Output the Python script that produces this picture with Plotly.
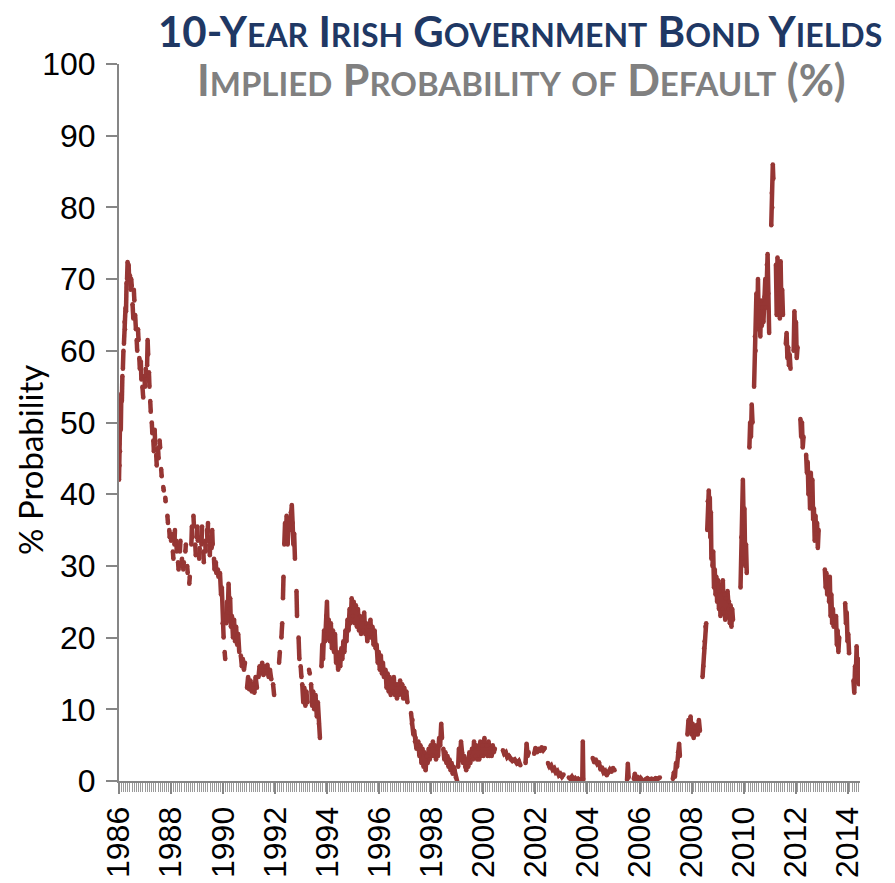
import plotly.graph_objects as go

# ---------------- DATA (decimal year, implied default probability %) ----------------
# None marks a gap in the published series
era_1986_1989 = [
    (1986.00, 42), (1986.01, 47), (1986.02, 44), (1986.03, 50), (1986.04, 46), (1986.05, 52), (1986.07, 49), (1986.09, 54), None,
    (1986.11, 53), (1986.13, 56.5), None,
    (1986.15, 57.5), (1986.17, 60), None,
    (1986.19, 61), (1986.21, 64), (1986.23, 63), (1986.25, 66), None,
    (1986.27, 65.5), (1986.29, 69.5), None,
    (1986.31, 70), (1986.33, 72.4), (1986.35, 71), (1986.37, 72), (1986.39, 70), None,
    (1986.42, 70.5), (1986.45, 68.5), (1986.47, 70), (1986.49, 69), None,
    (1986.52, 66.5), (1986.55, 64.5), None,
    (1986.57, 68.5), (1986.59, 67), None,
    (1986.62, 65), (1986.65, 63), None,
    (1986.68, 61.5), (1986.70, 60), None,
    (1986.73, 63), (1986.75, 61.5), None,
    (1986.78, 59), (1986.80, 57.5), None,
    (1986.84, 58.5), (1986.86, 56), None,
    (1986.90, 55), (1986.93, 53.5), None,
    (1986.97, 56.5), (1987.00, 55), None,
    (1987.03, 57.5), (1987.05, 56), None,
    (1987.08, 58), (1987.10, 61.5), (1987.12, 59.5), None,
    (1987.15, 57), (1987.17, 55), None,
    (1987.20, 53), (1987.22, 51.5), None,
    (1987.26, 50), (1987.28, 48.5), None,
    (1987.32, 47.5), (1987.34, 46), None,
    (1987.37, 49), (1987.39, 47), None,
    (1987.43, 45.5), (1987.45, 44), None,
    (1987.50, 46.5), (1987.52, 45), None,
    (1987.56, 47.5), (1987.58, 46.5), None,
    (1987.62, 43.5), (1987.64, 42.5), None,
    (1987.70, 41), (1987.72, 40.5), None,
    (1987.78, 39.5), (1987.79, 39), None,
    (1987.86, 37), (1987.88, 36), None,
    (1987.93, 35), (1987.95, 34), None,
    (1988.00, 33.5), (1988.02, 34.5), None,
    (1988.07, 32), (1988.09, 31), None,
    (1988.13, 33), (1988.15, 35), None,
    (1988.20, 33.5), (1988.22, 32), None,
    (1988.27, 30.5), (1988.29, 29.5), None,
    (1988.34, 32), (1988.36, 33.5), None,
    (1988.40, 30), (1988.42, 31), None,
    (1988.47, 29.5), (1988.49, 30.5), None,
    (1988.55, 32), (1988.57, 33), None,
    (1988.62, 30), (1988.64, 29), None,
    (1988.70, 27.5), (1988.72, 28.5), None,
    (1988.78, 33), (1988.80, 35.5), (1988.82, 34), None,
    (1988.86, 37), (1988.88, 35.5), None,
    (1988.93, 33), (1988.95, 31.5), None,
    (1988.99, 34), (1989.01, 35.5), (1989.03, 33.5), None,
    (1989.08, 31), (1989.10, 32.5), None,
    (1989.15, 34), (1989.17, 33), (1989.19, 35.5), None,
    (1989.24, 32), (1989.26, 30.5), None,
    (1989.31, 33.5), (1989.33, 32), None,
    (1989.38, 35), (1989.40, 33.5), (1989.42, 36), None,
    (1989.47, 33), (1989.49, 31.5), (1989.51, 34), None,
    (1989.56, 32.5), (1989.58, 35), (1989.60, 33), None,
    (1989.65, 31), (1989.67, 29.5), None,
    (1989.72, 30.5), (1989.74, 29), None,
    (1989.80, 29.5), (1989.82, 28.5), None,
]

era_1990_1997 = [
    (1989.88, 29), (1989.92, 26), (1989.95, 27), (1989.98, 22), (1990.02, 20), None,
    (1990.06, 18), (1990.08, 17), None,
    (1990.12, 22), (1990.15, 25), (1990.18, 23.5), (1990.21, 27.5), (1990.24, 24), (1990.27, 25.5), (1990.30, 21.5), None,
    (1990.34, 23), (1990.38, 20), (1990.42, 22.5), (1990.46, 19.5), (1990.50, 21.5), (1990.54, 19), (1990.58, 20.5), (1990.62, 18), None,
    (1990.68, 17.5), (1990.72, 16), (1990.76, 17), (1990.80, 15.5), (1990.84, 16.5), None,
    (1990.92, 13), (1990.96, 14.5), (1991.00, 12.8), (1991.05, 14), (1991.10, 12.5), (1991.15, 13.5), (1991.20, 12.3), (1991.25, 14.5), (1991.30, 13), None,
    (1991.36, 14.5), (1991.40, 16), (1991.45, 15), (1991.50, 16.5), (1991.55, 14.8), (1991.60, 16), (1991.65, 15), (1991.70, 16.2),
    (1991.75, 14.5), (1991.80, 15.5), (1991.85, 14.2), None,
    (1991.92, 13.5), (1991.96, 12), None,
    (1992.15, 16.5), (1992.18, 18), None,
    (1992.24, 20), (1992.27, 22), None,
    (1992.30, 25.5), (1992.32, 28.5), None,
    (1992.35, 33), (1992.38, 36), (1992.41, 34), (1992.44, 37), (1992.48, 33), (1992.52, 36.5), (1992.56, 35), (1992.60, 37.5),
    (1992.64, 38.5), (1992.67, 36), (1992.70, 33), (1992.73, 34.5), (1992.76, 31), None,
    (1992.82, 26.5), (1992.84, 23), None,
    (1992.90, 20), (1992.93, 17), None,
    (1992.98, 16), (1993.01, 14.5), None,
    (1993.04, 13.5), (1993.08, 11), (1993.12, 13), (1993.16, 10.5), (1993.20, 12.5), (1993.24, 11), None,
    (1993.30, 15.5), (1993.33, 15), None,
    (1993.38, 13.5), (1993.42, 10.5), (1993.46, 12.5), (1993.50, 10), (1993.55, 12), (1993.60, 9), (1993.64, 11), (1993.68, 8), (1993.72, 6), None,
    (1993.78, 16), (1993.81, 19), (1993.84, 17), (1993.88, 21), (1993.92, 19.5), (1993.96, 23), (1993.99, 25), (1994.02, 20.5),
    (1994.06, 22.5), (1994.10, 19.5), (1994.14, 22), (1994.18, 18.5), (1994.22, 21), (1994.26, 18), (1994.30, 20.5), (1994.34, 16.5),
    (1994.38, 18), (1994.42, 15.5), (1994.46, 17.5), (1994.50, 16), (1994.54, 18.5), (1994.58, 17), (1994.62, 19.5), (1994.66, 18),
    (1994.70, 21), (1994.74, 19.5), (1994.78, 22.5), (1994.82, 21), (1994.86, 24), (1994.90, 22), (1994.94, 25.5), (1994.98, 23),
    (1995.02, 25), (1995.06, 22), (1995.10, 24.5), (1995.14, 21.5), (1995.18, 24), (1995.22, 21), (1995.26, 23), (1995.30, 20.5),
    (1995.34, 22.5), (1995.38, 21), (1995.42, 23.5), (1995.46, 20.5), (1995.50, 22), (1995.54, 19.5), (1995.58, 21.5), (1995.62, 20),
    (1995.66, 22.5), (1995.70, 20), (1995.74, 21.5), (1995.78, 19), None,
    (1995.82, 21), (1995.86, 18.5), (1995.90, 19), (1995.94, 16.5), (1995.98, 18), (1996.02, 15.5), (1996.06, 17.5), (1996.10, 15),
    (1996.14, 16.5), (1996.18, 14.5), None,
    (1996.24, 15.5), (1996.28, 13), (1996.32, 15), (1996.36, 12.5), (1996.40, 14.5), (1996.44, 12), (1996.48, 14), (1996.52, 12.5),
    (1996.56, 14.5), (1996.60, 12), (1996.64, 13.5), (1996.68, 11.5), (1996.72, 13.5), (1996.76, 12), (1996.80, 14), (1996.84, 12.5),
    (1996.88, 13.5), (1996.92, 11.5), (1996.96, 13), (1997.00, 11.5), (1997.04, 12.5), (1997.08, 11), None,
    (1997.22, 9.5), (1997.25, 8), (1997.28, 8.5), (1997.31, 6.5), (1997.34, 7), (1997.37, 5.5), (1997.40, 6), (1997.43, 4.5), (1997.46, 5), None,
]

era_1998_2007 = [
    (1997.50, 5.5), (1997.54, 3.5), (1997.58, 5), (1997.62, 2.5), (1997.66, 4.5), (1997.70, 2), (1997.74, 4), (1997.78, 1.5),
    (1997.82, 3.5), (1997.86, 2.5), (1997.90, 4.5), (1997.94, 3), (1997.98, 5), (1998.02, 3.5), (1998.06, 5.5), (1998.10, 3.5),
    (1998.14, 5), (1998.18, 3), (1998.22, 4.5), (1998.26, 3.5), (1998.30, 6), (1998.34, 5), (1998.38, 8), (1998.41, 6), None,
    (1998.46, 4.5), (1998.50, 3), (1998.54, 4), (1998.58, 2.5), (1998.62, 3.5), (1998.66, 2), (1998.70, 3), (1998.74, 1.5),
    (1998.78, 2.5), (1998.82, 1), (1998.86, 2), (1998.90, 1.5), (1998.94, 0.5), (1998.99, 0), None,
    (1999.03, 2), (1999.06, 4.5), (1999.10, 3), (1999.14, 5.5), (1999.18, 4), (1999.22, 2.5), (1999.26, 3.5), (1999.30, 2),
    (1999.34, 1.5), (1999.38, 3), (1999.42, 2), (1999.46, 4), (1999.50, 2.5), None,
    (1999.56, 4.5), (1999.60, 3), (1999.64, 5.5), (1999.68, 3.5), (1999.72, 5), (1999.76, 3), (1999.80, 4.5), (1999.84, 3),
    (1999.88, 5.5), (1999.92, 3.5), (1999.96, 5), (2000.00, 3.5), (2000.04, 6), (2000.08, 4), (2000.12, 5), (2000.16, 3.5),
    (2000.20, 5.5), (2000.24, 3.5), (2000.28, 4.5), (2000.32, 3.5), (2000.36, 5), (2000.40, 4), (2000.44, 4.5), None,
    (2000.75, 4.3), (2000.80, 3.8), (2000.86, 4), (2000.92, 3.3), (2000.98, 3.5), (2001.05, 3), (2001.12, 2.8), (2001.20, 3),
    (2001.28, 2.5), (2001.36, 2.8), (2001.42, 2.2), None,
    (2001.62, 2.5), (2001.66, 5.2), (2001.70, 3.5), (2001.74, 4), None,
    (2001.95, 3.8), (2002.00, 4.6), (2002.06, 4), (2002.12, 4.5), (2002.18, 4.2), (2002.24, 4.7), (2002.30, 4.3), (2002.36, 4.6), None,
    (2002.48, 2.5), (2002.54, 2), (2002.60, 2.2), (2002.66, 1.6), (2002.72, 1.8), (2002.78, 1.2), (2002.84, 1.4), (2002.90, 0.8),
    (2002.96, 1), (2003.02, 0.6), (2003.08, 0.9), None,
    (2003.28, 0.5), (2003.34, 0.3), (2003.40, 0.6), (2003.46, 0.2), (2003.52, 0.4), (2003.58, 0.1), (2003.64, 0.3), (2003.72, 0),
    (2003.80, 0.2), (2003.82, 5.5), (2003.84, 0.2), None,
    (2004.20, 3.2), (2004.26, 2.6), (2004.32, 3), (2004.38, 2.4), (2004.44, 2.6), (2004.50, 1.6), (2004.56, 1.9), (2004.62, 1.2),
    (2004.68, 1.4), (2004.74, 0.8), (2004.80, 1.2), (2004.86, 1.6), (2004.92, 1.3), (2004.98, 1.8), (2005.04, 1.5), None,
    (2005.52, 0.2), (2005.55, 2.4), (2005.58, 0.5), None,
    (2005.78, 0.3), (2005.82, 1), (2005.86, 0.2), (2005.92, 0.6), (2005.98, 0.1), (2006.04, 0.4), (2006.10, 0.1), None,
    (2006.22, 0.2), (2006.30, 0.4), (2006.38, 0.2), (2006.46, 0.3), (2006.54, 0.2), (2006.62, 0.4), (2006.70, 0.3), (2006.78, 0.5), None,
    (2007.28, 0.3), (2007.32, 1.2), (2007.36, 0.6), (2007.40, 2.5), (2007.44, 2), (2007.48, 4), (2007.52, 5.2), (2007.55, 3.5), None,
]

era_2008_2014 = [
    (2007.84, 6.5), (2007.88, 8.5), (2007.92, 7), (2007.96, 9), (2008.00, 6.5), (2008.04, 8), (2008.08, 6), (2008.12, 7.5),
    (2008.16, 6.5), (2008.20, 7.8), (2008.24, 6.5), (2008.28, 8.5), (2008.32, 7), None,
    (2008.42, 14.5), (2008.45, 16), (2008.48, 18.5), (2008.50, 19.5), (2008.53, 21.5), (2008.56, 22), None,
    (2008.60, 35), (2008.62, 39), (2008.64, 36), (2008.66, 40.5), (2008.68, 37), (2008.70, 39.5), (2008.72, 34), (2008.74, 37.5), (2008.76, 31), None,
    (2008.80, 30), (2008.83, 32), (2008.86, 27), (2008.89, 29.5), (2008.92, 26), (2008.95, 28.5), (2008.98, 25), None,
    (2009.02, 28), (2009.05, 24), (2009.08, 26.5), (2009.11, 23), (2009.14, 27), (2009.17, 24), (2009.20, 28), (2009.23, 23.5),
    (2009.26, 26), (2009.29, 22.5), (2009.32, 25.5), (2009.35, 23), (2009.38, 26.5), (2009.41, 24), (2009.44, 25), (2009.47, 22),
    (2009.50, 24.5), (2009.53, 21.5), (2009.56, 24), (2009.59, 22.5), None,
    (2009.88, 27), (2009.91, 34), (2009.94, 31), (2009.97, 42), (2010.00, 36), (2010.03, 38), (2010.06, 30), (2010.09, 33), (2010.12, 29), None,
    (2010.22, 46.5), (2010.25, 50), (2010.28, 48), (2010.31, 52.5), (2010.34, 50), None,
    (2010.40, 55), (2010.43, 62), (2010.46, 60), (2010.49, 68), (2010.52, 63), (2010.55, 70), (2010.58, 64), (2010.61, 66),
    (2010.64, 62), (2010.67, 67), (2010.70, 63.5), (2010.73, 66), (2010.76, 64), (2010.80, 67.5), (2010.83, 70), (2010.86, 66),
    (2010.89, 72), (2010.92, 73.5), (2010.95, 68), (2010.98, 62.5), None,
    (2011.06, 77.5), (2011.08, 82), (2011.10, 80), (2011.12, 86), (2011.14, 84), None,
    (2011.24, 72), (2011.27, 65), (2011.30, 73), (2011.33, 68), (2011.36, 71), (2011.39, 64.5), (2011.42, 72.5), (2011.45, 66),
    (2011.48, 68.5), (2011.51, 65), None,
    (2011.62, 61), (2011.65, 62.5), (2011.68, 59), (2011.71, 60.5), (2011.74, 58), (2011.77, 59.5), (2011.80, 57.5), None,
    (2011.92, 60), (2011.95, 65.5), (2011.98, 62), (2012.01, 64), (2012.04, 59), (2012.07, 60.5), None,
    (2012.18, 50.5), (2012.21, 48), (2012.24, 50), (2012.27, 46.5), (2012.30, 48), None,
    (2012.40, 45.5), (2012.43, 43), (2012.46, 44.5), (2012.49, 40), (2012.52, 42.5), (2012.55, 38), (2012.58, 43), (2012.61, 40),
    (2012.64, 42), (2012.67, 36.5), (2012.70, 38), (2012.73, 33.5), (2012.76, 37), (2012.79, 34.5), (2012.82, 36), (2012.85, 32.5), (2012.88, 35), None,
    (2013.12, 29.5), (2013.15, 27), (2013.18, 29), (2013.21, 26), None,
    (2013.28, 25), (2013.31, 28.5), (2013.34, 23), (2013.37, 26), (2013.40, 22), (2013.43, 24), (2013.46, 21.5), (2013.49, 23), None,
    (2013.55, 23), (2013.58, 19), (2013.61, 21), (2013.64, 18), (2013.67, 20), None,
    (2013.90, 24.8), (2013.93, 22), (2013.96, 23.5), (2013.99, 19.5), (2014.02, 20.5), (2014.05, 17.8), None,
    (2014.22, 14), (2014.25, 12.3), (2014.28, 16), (2014.31, 15), (2014.34, 18.8), (2014.37, 14.5), (2014.40, 17), (2014.43, 13.5), (2014.46, 15.5),
]

tick_years = list(range(1986, 2015, 2))
tick_labels = [str(y) for y in tick_years]
y_ticks = list(range(0, 101, 10))

TITLE = "10-Year Irish Government Bond Yields"
SUBTITLE = "Implied Probability of Default (%)"
Y_TITLE = "% Probability"

# ---------------- BUILD ----------------
xs, ys = [], []
for era in (era_1986_1989, era_1990_1997, era_1998_2007, era_2008_2014):
    for item in era:
        if item is None:
            xs.append(None); ys.append(None)
        else:
            xs.append(item[0]); ys.append(item[1])
    xs.append(None); ys.append(None)


def small_caps(text, small):
    out, run = [], ""
    for ch in text:
        if ch.islower():
            run += ch.upper()
        else:
            if run:
                out.append(f"<span style='font-size:{small}px'>{run}</span>")
                run = ""
            out.append(ch)
    if run:
        out.append(f"<span style='font-size:{small}px'>{run}</span>")
    return "".join(out)


RED = "#963634"
GREY = "#868686"
TICKFONT = dict(size=32, family="Liberation Sans, Arial, sans-serif", color="black")

fig = go.Figure()
fig.add_trace(go.Scatter(
    x=xs, y=ys, mode="lines+markers", connectgaps=False,
    line=dict(color=RED, width=4.5),
    marker=dict(color=RED, size=4.5),
    hoverinfo="skip", showlegend=False,
))

X_RANGE = [1986, 2014.47]
fig.update_layout(
    width=895, height=883,
    margin=dict(l=119, r=35, t=64, b=102, autoexpand=False),
    paper_bgcolor="white", plot_bgcolor="white",
    font=dict(family="Liberation Sans, Arial, sans-serif", color="black"),
    xaxis=dict(
        range=X_RANGE, tickmode="array", tickvals=tick_years, ticktext=tick_labels, automargin=False,
        tickangle=-90, ticks="outside", ticklen=11, tickwidth=2, tickcolor=GREY,
        showline=True, linecolor=GREY, linewidth=2, showgrid=False, zeroline=False,
        tickfont=TICKFONT,
        minor=dict(tickmode="linear", tick0=1986, dtick=1/12, ticks="outside", ticklen=9,
                   tickwidth=1, tickcolor="#9a9a9a", showgrid=False),
    ),
    xaxis2=dict(
        range=X_RANGE, overlaying="x", anchor="y", side="bottom", automargin=False,
        tickmode="array", tickvals=tick_years, ticks="inside", ticklen=12, tickwidth=2,
        tickcolor=GREY, showticklabels=False, showline=False, showgrid=False, zeroline=False,
    ),
    yaxis=dict(
        range=[0, 100], tickmode="array", tickvals=y_ticks, ticktext=[str(v) for v in y_ticks],
        automargin=False,
        ticks="outside", ticklen=11, tickwidth=2, tickcolor=GREY, ticklabelstandoff=4,
        showline=True, linecolor=GREY, linewidth=2, showgrid=False, zeroline=False,
        tickfont=TICKFONT,
    ),
)

fig.add_annotation(
    xref="paper", yref="paper", x=(520 - 119) / 741, y=(781 - 31) / 717, xanchor="center", yanchor="middle",
    text="<b>" + small_caps(TITLE, 32) + "</b>", showarrow=False,
    font=dict(family="Lato, sans-serif", size=42, color="#1F3864"),
)
fig.add_annotation(
    xref="paper", yref="paper", x=(521 - 119) / 741, y=(781 - 80) / 717, xanchor="center", yanchor="middle",
    text="<b>" + small_caps(SUBTITLE, 33) + "</b>", showarrow=False,
    font=dict(family="Lato, sans-serif", size=43, color="#808080"),
)
fig.add_annotation(
    xref="paper", yref="paper", x=(30 - 119) / 741, y=(781 - 460) / 717, xanchor="center", yanchor="middle",
    text=Y_TITLE, textangle=-90, showarrow=False,
    font=dict(family="Lato, sans-serif", size=33, color="black"),
)

fig.write_html("out.html", config={"displayModeBar": False},
               post_script="document.body.style.margin='0';")
